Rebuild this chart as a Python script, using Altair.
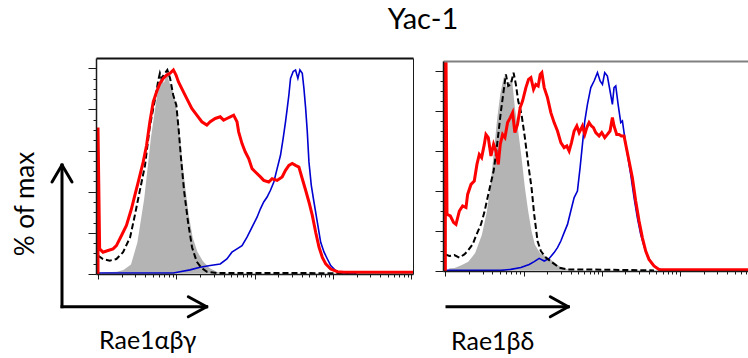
import math
import altair as alt
import pandas as pd

# x = position on the log fluorescence axis (decades), y = % of max

# ---- Rae1αβγ ----
a_fill_x = [0.0, 0.10, 0.24, 0.32, 0.41, 0.49, 0.577, 0.662, 0.748, 0.80, 0.84, 0.885, 0.92, 0.96, 1.0,
            1.04, 1.08, 1.12, 1.17, 1.22, 1.28, 1.35, 1.43, 1.52, 1.60, 1.73, 1.90]
a_fill_y = [1.0, 1.3, 1.6, 2.4, 4.9, 15.4, 36.6, 66.0, 88.6, 98.4, 94.3, 99.2, 93.5, 90.0, 84.0,
            73.0, 58.0, 44.0, 29.0, 18.0, 11.0, 6.5, 3.3, 1.6, 0.6, 0.2, 0.0]

a_dash_x = [0.0, 0.064, 0.15, 0.235, 0.32, 0.41, 0.47, 0.53, 0.60, 0.66, 0.73, 0.77, 0.79, 0.81, 0.855,
            0.885, 0.92, 0.96, 1.0, 1.03, 1.06, 1.10, 1.15, 1.20, 1.26, 1.32, 1.39, 1.52, 2.5, 3.2]
a_dash_y = [8.9, 7.3, 6.5, 7.3, 10.6, 17.9, 28.5, 39.8, 52.8, 71.5, 85.4, 94.3, 97.6, 95.1, 97.6,
            99.2, 95.1, 87.0, 82.0, 70.0, 56.0, 40.0, 25.0, 13.0, 6.0, 3.0, 1.1, 0.5, 0.5, 0.3]

a_blue_x = [0.0, 0.962, 1.047, 1.175, 1.303, 1.432, 1.56, 1.645, 1.709, 1.774, 1.838, 1.902, 1.966, 2.03,
            2.073, 2.115, 2.158, 2.201, 2.244, 2.286, 2.329, 2.363, 2.393, 2.415, 2.436, 2.457, 2.491,
            2.521, 2.551, 2.577, 2.607, 2.628, 2.65, 2.671, 2.692, 2.722, 2.756, 2.799, 2.842, 2.885,
            2.927, 2.97, 3.034, 3.098, 3.3]
a_blue_y = [0.5, 0.5, 1.1, 2.0, 3.3, 4.1, 4.9, 7.3, 10.6, 12.2, 13.8, 17.9, 22.8, 27.6,
            31.7, 35.0, 37.4, 40.7, 44.7, 51.2, 57.7, 65.9, 74.0, 80.5, 87.0, 95.1, 98.4,
            99.2, 95.1, 99.2, 97.6, 90.2, 80.5, 69.1, 54.5, 43.1, 35.0, 25.2, 15.4, 10.6,
            7.3, 4.1, 1.6, 0.5, 0.3]

a_red_x = [0.0, 0.0, 0.021, 0.064, 0.128, 0.192, 0.235, 0.30, 0.363, 0.427, 0.47, 0.513, 0.577, 0.62,
           0.662, 0.705, 0.748, 0.791, 0.833, 0.876, 0.919, 0.962, 0.996, 1.026, 1.068, 1.132, 1.197,
           1.261, 1.325, 1.389, 1.432, 1.496, 1.56, 1.603, 1.645, 1.688, 1.731, 1.774, 1.795, 1.838,
           1.88, 1.923, 1.966, 2.009, 2.073, 2.115, 2.179, 2.222, 2.286, 2.35, 2.393, 2.436, 2.479,
           2.521, 2.564, 2.607, 2.65, 2.692, 2.735, 2.778, 2.821, 2.863, 2.906, 2.97, 3.056, 3.141, 4.02]
a_red_y = [0, 71.2, 12.2, 10.6, 11.4, 12.2, 13.8, 18.7, 23.6, 31.7, 38.2, 44.7, 54.5, 62.6,
           74.0, 83.7, 88.6, 92.7, 95.1, 96.7, 97.6, 99.2, 96.7, 93.5, 90.2, 85.4, 80.5,
           77.2, 74.0, 72.4, 74.0, 75.6, 76.4, 74.8, 75.6, 76.4, 77.2, 74.0, 69.1, 63.4,
           59.3, 56.1, 51.2, 49.6, 47.2, 45.5, 44.7, 46.3, 45.5, 47.2, 50.4, 52.8, 53.7,
           52.8, 52.0, 46.3, 40.7, 35.0, 28.5, 20.3, 13.0, 8.1, 4.9, 2.4, 1.1, 0.8, 0.8]

# ---- Rae1βδ ----
b_fill_x = [0.03, 0.115, 0.2, 0.285, 0.37, 0.455, 0.519, 0.562, 0.604, 0.647, 0.689, 0.732, 0.762,
            0.787, 0.817, 0.847, 0.872, 0.902, 0.945, 0.987, 1.03, 1.072, 1.115, 1.157, 1.221,
            1.306, 1.391, 1.477, 1.562, 1.647, 1.774]
b_fill_y = [1.7, 2.0, 3.3, 5.0, 9.2, 18.3, 30.0, 41.7, 58.3, 75.0, 88.3, 96.7, 99.2,
            93.3, 95.0, 98.3, 93.3, 81.7, 70.0, 56.7, 41.7, 30.0, 20.0, 13.3, 9.2,
            7.5, 5.0, 2.5, 1.3, 0.7, 0.0]

b_dash_x = [0.0, 0.051, 0.115, 0.179, 0.243, 0.285, 0.349, 0.391, 0.455, 0.498, 0.54, 0.583, 0.617,
            0.647, 0.677, 0.711, 0.745, 0.774, 0.804, 0.838, 0.872, 0.902, 0.932, 0.974, 1.017,
            1.06, 1.102, 1.136, 1.179, 1.221, 1.285, 1.37, 1.455, 1.562, 1.774, 2.668]
b_dash_y = [8.3, 7.5, 8.0, 6.7, 8.3, 10.0, 13.3, 17.5, 23.3, 29.2, 36.7, 44.2, 50.0,
            58.3, 68.3, 80.0, 90.0, 98.3, 92.5, 93.3, 99.2, 93.3, 85.0, 78.3, 66.7,
            53.3, 41.7, 28.3, 15.0, 10.0, 6.7, 4.2, 1.7, 0.8, 0.8, 0.3]

b_blue_x = [0.0, 0.711, 0.838, 0.966, 1.072, 1.136, 1.2, 1.264, 1.328, 1.391, 1.434, 1.477, 1.519,
            1.562, 1.604, 1.647, 1.689, 1.723, 1.753, 1.783, 1.817, 1.86, 1.902, 1.945, 1.979,
            2.009, 2.038, 2.072, 2.106, 2.136, 2.157, 2.179, 2.209, 2.243, 2.264, 2.294, 2.328,
            2.37, 2.413, 2.455, 2.498, 2.54, 2.583, 2.647, 2.711, 2.796, 2.881]
b_blue_y = [0.3, 0.3, 0.8, 1.7, 3.3, 4.7, 6.3, 5.0, 6.3, 9.2, 11.7, 15.0, 19.2,
            23.3, 30.0, 36.7, 40.0, 51.7, 63.3, 75.0, 83.3, 91.7, 95.0, 99.2, 95.0,
            93.3, 99.2, 97.5, 90.0, 83.3, 91.7, 92.5, 83.3, 74.2, 75.0, 66.7, 58.3,
            48.3, 36.7, 26.7, 18.3, 12.5, 7.5, 3.3, 1.3, 0.3, 0.0]

b_red_x = [0.0, 0.0, 0.021, 0.064, 0.106, 0.136, 0.179, 0.221, 0.264, 0.285, 0.328, 0.37, 0.404,
           0.434, 0.464, 0.498, 0.519, 0.549, 0.583, 0.617, 0.647, 0.677, 0.702, 0.732, 0.762,
           0.796, 0.83, 0.86, 0.889, 0.923, 0.957, 0.987, 1.03, 1.064, 1.094, 1.128, 1.157,
           1.187, 1.213, 1.234, 1.264, 1.306, 1.349, 1.391, 1.434, 1.477, 1.519, 1.553, 1.583,
           1.613, 1.647, 1.681, 1.711, 1.753, 1.783, 1.809, 1.838, 1.868, 1.894, 1.923, 1.966,
           2.0, 2.038, 2.072, 2.106, 2.136, 2.157, 2.191, 2.221, 2.251, 2.285, 2.319, 2.349,
           2.391, 2.434, 2.477, 2.519, 2.562, 2.604, 2.668, 2.732, 2.838, 3.87]
b_red_y = [0, 160, 28.3, 27.5, 24.2, 23.3, 30.0, 32.5, 31.7, 38.3, 43.3, 45.0, 53.3,
           58.3, 56.7, 63.3, 68.3, 66.7, 57.5, 63.3, 60.0, 53.3, 63.3, 68.3, 66.7,
           74.2, 76.7, 79.2, 69.2, 73.3, 81.7, 85.0, 91.7, 95.8, 96.7, 90.8, 93.3,
           92.5, 98.3, 99.2, 91.7, 86.7, 79.2, 74.2, 70.0, 64.2, 61.7, 62.5, 60.0,
           64.2, 70.0, 72.5, 69.2, 72.5, 68.3, 71.7, 74.2, 72.5, 71.7, 69.2, 67.5,
           69.2, 66.7, 68.3, 70.0, 76.7, 72.5, 68.3, 68.3, 67.5, 67.5, 60.8, 55.0,
           46.7, 35.0, 25.0, 16.7, 10.0, 5.8, 2.5, 0.8, 0.6, 0.6]

title_text = "Yac-1"
y_label = "% of max"
a_label = "Rae1αβγ"
b_label = "Rae1βδ"

FONT = "Lato"
INK = "#1a1a1a"
MAJOR_X = "abs(datum.value - round(datum.value)) < 0.001"
MAJOR_Y = "datum.value % 20 === 0"


def frame(xs, ys):
    return pd.DataFrame({"decade": xs, "pct": ys, "i": list(range(len(xs)))})


def log_ticks(lo, hi):
    vals = []
    for j in range(0, 5):
        for k in range(1, 10):
            v = round(j + math.log10(k), 4)
            if lo <= v <= hi:
                vals.append(v)
    return vals


def one_row():
    return alt.Data(values=[{"k": 0}])


def segment(x1, y1, x2, y2, cap="round"):
    return alt.Chart(one_row()).mark_rule(
        color="black", strokeWidth=3, strokeCap=cap
    ).encode(x=alt.value(x1), y=alt.value(y1), x2=alt.value(x2), y2=alt.value(y2))


def label(text, x, y, size, angle=0, align="center"):
    return alt.Chart(one_row()).mark_text(
        text=text, font=FONT, fontSize=size, color="black", align=align,
        baseline="alphabetic", angle=angle
    ).encode(x=alt.value(x), y=alt.value(y))


def panel(fill, dash, blue, red, width, height, x_domain, top_color, right_border, extras):
    xs = alt.Scale(domain=x_domain, nice=False, zero=False)
    ys = alt.Scale(domain=[0, 105], nice=False, zero=False)

    bottom_axis = alt.Axis(
        orient="bottom", values=log_ticks(*x_domain), labels=False, title=None, grid=False,
        domainColor=INK, domainWidth=1.5, tickColor=INK, tickWidth=1,
        tickSize={"condition": {"test": MAJOR_X, "value": 5}, "value": 3}, zindex=1)
    left_axis = alt.Axis(
        orient="left", values=list(range(0, 101, 5)), labels=False, title=None, grid=False,
        domainColor=INK, domainWidth=1.5, tickColor=INK, tickWidth=1,
        tickSize={"condition": {"test": MAJOR_Y, "value": 8}, "value": 3}, zindex=1)
    top_axis = alt.Axis(orient="top", ticks=False, labels=False, title=None, grid=False,
                        domainColor=top_color, domainWidth=2, zindex=1)
    right_axis = alt.Axis(orient="right", ticks=False, labels=False, title=None, grid=False,
                          domainColor=INK, domainWidth=1, zindex=1) if right_border else None

    def enc(xaxis, yaxis, ordered=True):
        e = dict(
            x=alt.X("decade:Q", scale=xs, axis=xaxis),
            y=alt.Y("pct:Q", scale=ys, axis=yaxis),
        )
        if ordered:
            e["order"] = alt.Order("i:Q")
        return e

    fill_layer = alt.Chart(fill).mark_area(
        color="#b4b4b4", stroke="white", strokeWidth=2, clip=True
    ).encode(**enc(bottom_axis, left_axis, ordered=False))
    blue_layer = alt.Chart(blue).mark_line(
        color="#0000d0", strokeWidth=1.6, clip=True
    ).encode(**enc(top_axis, right_axis))
    dash_layer = alt.Chart(dash).mark_line(
        color="black", strokeWidth=2, strokeDash=[6, 3], clip=True
    ).encode(**enc(None, None))
    red_layer = alt.Chart(red).mark_line(
        color="#ff0000", strokeWidth=3, clip=True
    ).encode(**enc(None, None))

    return alt.layer(
        *extras, fill_layer, blue_layer, dash_layer, red_layer
    ).properties(width=width, height=height).resolve_axis(x="independent", y="independent")


# canvas anchor so the whole figure keeps its margins
canvas = alt.Chart(one_row()).mark_rect(opacity=0).encode(
    x=alt.value(-96), x2=alt.value(652), y=alt.value(-58), y2=alt.value(300))

left_extras = [
    canvas,
    label(title_text, 327, -29, 29),
    label(y_label, -62, 146, 26, angle=270),
    segment(-34, 248.7, -34, 107, cap="square"),
    segment(-34, 248.7, 110.7, 248.7, cap="square"),
    segment(-34, 107, -44, 124),
    segment(-34, 107, -24, 124),
    segment(110.7, 248.7, 92.3, 238.7),
    segment(110.7, 248.7, 92.3, 258.7),
    label(a_label, 3, 291, 25, align="left"),
]

right_extras = [
    segment(4, 245.7, 125.3, 245.7, cap="square"),
    segment(125.3, 245.7, 107.3, 235.7),
    segment(125.3, 245.7, 107.3, 255.7),
    label(b_label, 8, 288.5, 25, align="left"),
]

left = panel(frame(a_fill_x, a_fill_y), frame(a_dash_x, a_dash_y), frame(a_blue_x, a_blue_y),
             frame(a_red_x, a_red_y), 317, 216, [-0.0255, 4.02], "#111111", True, left_extras)
right = panel(frame(b_fill_x, b_fill_y), frame(b_dash_x, b_dash_y), frame(b_blue_x, b_blue_y),
              frame(b_red_x, b_red_y), 305, 210, [-0.03, 3.87], "#808080", False, right_extras)

chart = alt.hconcat(left, right, spacing=30, center=True, bounds="flush").properties(
    padding=0
).configure_view(stroke=None)

chart.save("out.html", embed_options={"renderer": "svg", "actions": False})
